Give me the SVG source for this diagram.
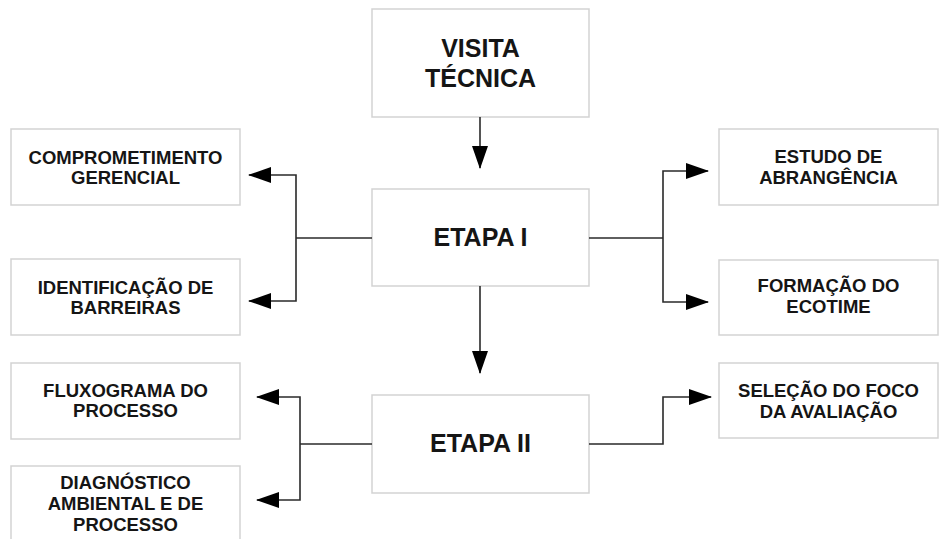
<svg xmlns="http://www.w3.org/2000/svg" width="939" height="539" viewBox="0 0 939 539">
<style>
  .box { fill: #ffffff; stroke: #d3d3d3; stroke-width: 1.5; }
  .lbl { font-family: "Liberation Sans", Arial, sans-serif; font-weight: bold; font-size: 18.5px; fill: #151515; text-anchor: middle; }
  .big { font-family: "Liberation Sans", Arial, sans-serif; font-weight: bold; font-size: 25px; fill: #151515; text-anchor: middle; }
  .conn { fill: none; stroke: #2a2a2a; stroke-width: 1.6; marker-end: url(#ah); }
  .connp { fill: none; stroke: #2a2a2a; stroke-width: 1.6; }
</style>
<defs>
  <marker id="ah" viewBox="0 0 23 16" refX="22" refY="8" markerWidth="23" markerHeight="16" markerUnits="userSpaceOnUse" orient="auto">
    <path d="M0,0 L23,8 L0,16 z" fill="#000"/>
  </marker>
</defs>
<rect width="939" height="539" fill="#ffffff"/>

<g id="visita">
  <rect class="box" x="372" y="9" width="217" height="108"/>
  <text class="big" x="480.5" y="57">VISITA</text>
  <text class="big" x="480.5" y="87">TÉCNICA</text>
</g>
<g id="etapa1">
  <rect class="box" x="372" y="189" width="217" height="97"/>
  <text class="big" x="480.5" y="246">ETAPA I</text>
</g>
<g id="etapa2">
  <rect class="box" x="372" y="395" width="217" height="98"/>
  <text class="big" x="480.5" y="452">ETAPA II</text>
</g>
<g id="comprometimento">
  <rect class="box" x="11" y="129" width="229" height="76"/>
  <text class="lbl" x="125.5" y="164">COMPROMETIMENTO</text>
  <text class="lbl" x="125.5" y="184">GERENCIAL</text>
</g>
<g id="identificacao">
  <rect class="box" x="11" y="259" width="229" height="76"/>
  <text class="lbl" x="125.5" y="294">IDENTIFICAÇÃO DE</text>
  <text class="lbl" x="125.5" y="314">BARREIRAS</text>
</g>
<g id="fluxograma">
  <rect class="box" x="11" y="363" width="229" height="76"/>
  <text class="lbl" x="125.5" y="397">FLUXOGRAMA DO</text>
  <text class="lbl" x="125.5" y="417">PROCESSO</text>
</g>
<g id="diagnostico">
  <rect class="box" x="11" y="466" width="229" height="100"/>
  <text class="lbl" x="125.5" y="489">DIAGNÓSTICO</text>
  <text class="lbl" x="125.5" y="510">AMBIENTAL E DE</text>
  <text class="lbl" x="125.5" y="531">PROCESSO</text>
</g>
<g id="estudo">
  <rect class="box" x="719" y="129" width="219" height="76"/>
  <text class="lbl" x="828.5" y="163">ESTUDO DE</text>
  <text class="lbl" x="828.5" y="184">ABRANGÊNCIA</text>
</g>
<g id="formacao">
  <rect class="box" x="719" y="260" width="219" height="75"/>
  <text class="lbl" x="828.5" y="292">FORMAÇÃO DO</text>
  <text class="lbl" x="828.5" y="313">ECOTIME</text>
</g>
<g id="selecao">
  <rect class="box" x="719" y="363" width="219" height="75"/>
  <text class="lbl" x="828.5" y="397">SELEÇÃO DO FOCO</text>
  <text class="lbl" x="828.5" y="418">DA AVALIAÇÃO</text>
</g>

<g id="connectors">
  <path class="conn" d="M480,117 L480,168"/>
  <path class="conn" d="M480,286 L480,373"/>
  <path class="connp" d="M372,238 L296,238"/>
  <path class="conn" d="M296,238 L296,175 L249,175"/>
  <path class="conn" d="M296,238 L296,301 L249,301"/>
  <path class="connp" d="M589,238 L663,238"/>
  <path class="conn" d="M663,238 L663,171 L708,171"/>
  <path class="conn" d="M663,238 L663,302 L708,302"/>
  <path class="connp" d="M372,444 L300,444"/>
  <path class="conn" d="M300,444 L300,397 L257,397"/>
  <path class="conn" d="M300,444 L300,500 L257,500"/>
  <path class="conn" d="M589,444 L663,444 L663,397 L711,397"/>
</g>
</svg>
